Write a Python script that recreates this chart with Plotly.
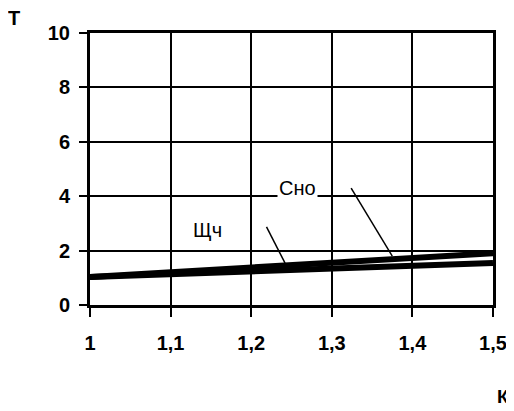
import plotly.graph_objects as go

# Data
k_vals = [1.0, 1.5]
t_cno = [1.03, 1.90]
t_shch = [1.03, 1.54]
x_ticks = [1.0, 1.1, 1.2, 1.3, 1.4, 1.5]
x_ticktext = ["<b>1</b>", "<b>1,1</b>", "<b>1,2</b>", "<b>1,3</b>", "<b>1,4</b>", "<b>1,5</b>"]
y_ticks = [0, 2, 4, 6, 8, 10]
y_ticktext = ["<b>0</b>", "<b>2</b>", "<b>4</b>", "<b>6</b>", "<b>8</b>", "<b>10</b>"]

# Label positions and leader lines (data coords)
labels = ["Сно", "Щч"]
label_x = [1.258, 1.146]
label_y = [4.32, 2.75]
leader_x0 = [1.324, 1.219]
leader_y0 = [4.30, 2.87]
leader_x1 = [1.375, 1.242]
leader_y1 = [1.80, 1.54]

FONT = "Liberation Sans, Arial, sans-serif"

# page body has an 8px margin; size figure so it ends at window edge
OFF = 8
W, H = 514 - OFF, 411 - OFF
ml, mr, mt, mb = 90 - OFF, 21, 33 - OFF, 106
pw, ph = W - ml - mr, H - mt - mb

fig = go.Figure()
fig.add_trace(go.Scatter(x=k_vals, y=t_shch, mode="lines",
                         line=dict(color="black", width=6), name="Щч", showlegend=False))
fig.add_trace(go.Scatter(x=k_vals, y=t_cno, mode="lines",
                         line=dict(color="black", width=6), name="Сно", showlegend=False))

for i, lab in enumerate(labels):
    fig.add_shape(type="line", x0=leader_x0[i], y0=leader_y0[i], x1=leader_x1[i], y1=leader_y1[i],
                  xref="x", yref="y", line=dict(color="black", width=1.5))
    fig.add_annotation(x=label_x[i], y=label_y[i], xref="x", yref="y", text=lab,
                       showarrow=False, bgcolor="white",
                       font=dict(family=FONT, size=20, color="black"))

def px_to_paper(px, py):
    return ((px - OFF) - ml) / pw, (H - mb - (py - OFF)) / ph

tx, ty = px_to_paper(14, 18)
kx, ky = px_to_paper(503, 396)
fig.add_annotation(x=tx, y=ty, xref="paper", yref="paper", text="<b>Т</b>", showarrow=False,
                   xanchor="center", yanchor="middle",
                   font=dict(family=FONT, size=20, color="black"))
fig.add_annotation(x=kx, y=ky, xref="paper", yref="paper", text="<b>К</b>", showarrow=False,
                   xanchor="center", yanchor="middle",
                   font=dict(family=FONT, size=19, color="black"))

fig.update_xaxes(range=[1.0, 1.5], tickvals=x_ticks, ticktext=x_ticktext,
                 showgrid=True, gridcolor="black", gridwidth=2,
                 showline=True, linecolor="black", linewidth=3, mirror=True,
                 ticks="outside", ticklen=9, tickwidth=2, tickcolor="black",
                 ticklabelstandoff=9, zeroline=False, automargin=False,
                 tickfont=dict(family=FONT, size=20, color="black"))
fig.update_yaxes(range=[0, 10], tickvals=y_ticks, ticktext=y_ticktext,
                 showgrid=True, gridcolor="black", gridwidth=2,
                 showline=True, linecolor="black", linewidth=3, mirror=True,
                 ticks="outside", ticklen=8, tickwidth=2, tickcolor="black",
                 ticklabelstandoff=5, zeroline=False, automargin=False,
                 tickfont=dict(family=FONT, size=20, color="black"))

fig.update_layout(width=W, height=H, margin=dict(l=ml, r=mr, t=mt, b=mb),
                  plot_bgcolor="white", paper_bgcolor="white", showlegend=False)

fig.write_html("out.html")
